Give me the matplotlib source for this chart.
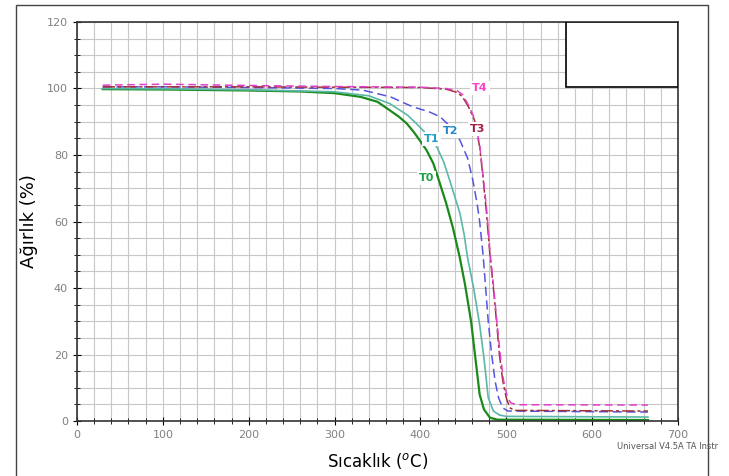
import matplotlib
matplotlib.use("Agg")
import matplotlib.pyplot as plt
from matplotlib.patches import Rectangle
from matplotlib.ticker import MultipleLocator

# TGA eğrileri
t0_x = [30, 100, 200, 260, 300, 330, 350, 364, 375, 384, 392, 399, 407, 415, 422, 430, 438,
        446, 452, 459, 464, 469, 474, 481, 490, 665]
t0_y = [99.8, 99.7, 99.4, 99.1, 98.6, 97.5, 96, 93.5, 91.5, 89.5, 87, 84.5, 81.5, 77.5, 72, 65.5, 58,
        49, 41, 30, 19, 8, 3.5, 1, 0.4, 0.3]

t1_x = [30, 100, 200, 300, 340, 364, 385, 399, 410, 419, 427, 434, 440, 446, 451, 455, 462,
        469, 474, 479, 485, 492, 500, 665]
t1_y = [100, 99.9, 99.6, 99, 97.8, 95.5, 92, 88.5, 85.5, 82.5, 78, 72.5, 67.5, 62.5, 56, 49, 40,
        29, 19, 7, 3, 1.8, 1.4, 1.2]

t2_x = [30, 100, 200, 300, 333, 365, 391, 410, 423, 435, 446, 455, 461, 466, 469, 473, 479,
        483, 487, 491, 496, 502, 665]
t2_y = [100.5, 100.5, 100.3, 100, 99.5, 97.5, 94.5, 93, 91.5, 88.5, 84.5, 79, 72.5, 65.5, 60, 50, 30,
        20, 12, 7, 3.9, 3, 2.7]

t3_x = [30, 200, 400, 430, 443, 449, 456, 463, 469, 473, 477, 481, 485, 489, 492, 496, 500,
        504, 510, 665]
t3_y = [100.5, 100.5, 100.3, 99.8, 98.8, 97.5, 94.5, 90.5, 82.5, 73, 62.5, 50, 40, 29, 20, 12, 7,
        4, 3.2, 3.0]

t4_x = [30, 100, 200, 300, 400, 430, 443, 449, 456, 463, 469, 473, 477, 481, 485, 489, 493,
        497, 501, 505, 512, 665]
t4_y = [101, 101.3, 100.9, 100.6, 100.4, 100, 99.3, 98.2, 95, 91, 83, 74, 64, 51, 41, 30, 20,
        12, 7.5, 5.5, 4.9, 4.8]

etiketler = ["T0", "T1", "T2", "T3", "T4"]
etiket_x = [407, 413, 435, 467, 469]
etiket_y = [73, 84.8, 87.2, 87.8, 100.2]

fig = plt.figure(figsize=(7.29, 4.76), dpi=100)
ax = fig.add_axes([0.1056, 0.1155, 0.8244, 0.8383])

ax.plot(t0_x, t0_y, color="#1a8a1a", lw=1.6)
ax.plot(t1_x, t1_y, color="#5ab8a8", lw=1.2)
ax.plot(t2_x, t2_y, color="#5555e0", lw=1.1, dashes=(6, 3))
ax.plot(t3_x, t3_y, color="#a03038", lw=1.1, dashes=(8, 2, 2, 2))
ax.plot(t4_x, t4_y, color="#e040c8", lw=1.1, dashes=(5, 3))

renkler = ["#20a048", "#20a0c8", "#2088c8", "#a02040", "#ff40c8"]
for e, x, y, c in zip(etiketler, etiket_x, etiket_y, renkler):
    ax.text(x, y, e, color=c, fontsize=8, fontweight="bold", ha="center", va="center",
            bbox=dict(facecolor="white", edgecolor="none", pad=1.5))

# lejant kutusu (boş)
ax.add_patch(Rectangle((570, 100.5), 130, 19.5, facecolor="white", edgecolor="black", lw=1.2, zorder=5))

ax.set_xlim(0, 700)
ax.set_ylim(0, 120)
ax.xaxis.set_major_locator(MultipleLocator(100))
ax.xaxis.set_minor_locator(MultipleLocator(20))
ax.yaxis.set_major_locator(MultipleLocator(20))
ax.yaxis.set_minor_locator(MultipleLocator(5))
ax.grid(True, which="both", color="#c8c8c8", lw=0.8)
ax.set_axisbelow(True)
ax.tick_params(which="both", direction="inout", colors="black", labelcolor="#808080", labelsize=8)
ax.tick_params(which="major", length=6)
ax.tick_params(which="minor", length=4)
for s in ax.spines.values():
    s.set_color("#333333")
    s.set_linewidth(1.2)

ax.set_ylabel("Ağırlık (%)", fontsize=13, labelpad=6)
ax.set_xlabel("Sıcaklık ($^{o}$C)", fontsize=12, labelpad=8)

fig.text(0.846, 0.057, "Universal V4.5A TA Instr", fontsize=6, color="#555555")
fig.add_artist(Rectangle((0.022, -0.05), 0.949, 1.0395, transform=fig.transFigure,
                         facecolor="none", edgecolor="#444444", lw=1.0))

fig.savefig("out.png", dpi=100)
